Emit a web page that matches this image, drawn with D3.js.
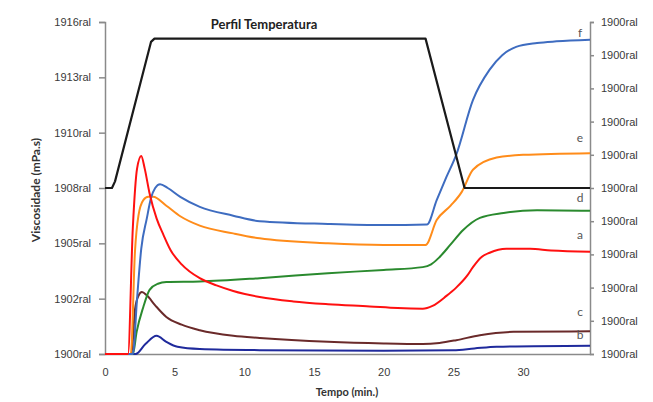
<!DOCTYPE html>
<html>
<head>
<meta charset="utf-8" />
<style>
  body { margin: 0; background: #fff; }
  svg { display: block; font-family: Lato, "Open Sans", sans-serif; }
  .axis path, .axis line { stroke: #8a8a8a; stroke-width: 1.5; }
  .axis text { fill: #3a3a3a; font-size: 11px; }
</style>
<script src="https://cdnjs.cloudflare.com/ajax/libs/d3/7.8.5/d3.min.js"></script>
</head>
<body>
<div id="chart"></div>
<script>
// left axis tick labels (as they appear in the source chart)
var leftTicks = ["1900ral", "1902ral", "1905ral", "1908ral", "1910ral", "1913ral", "1916ral"];
var rightTicks = [0, 10, 20, 30, 40, 50, 60, 70, 80, 90, 100];
var xTicks = [0, 5, 10, 15, 20, 25, 30];

// viscosity curves, [time (min), viscosity in left-axis units]
var curveA = [[0,0],[1.65,0],[2.0,2.3],[2.3,3.35],[2.6,3.58],[2.85,3.35],[3.2,2.9],[3.7,2.45],[4.2,2.15],[4.7,1.88],[5.5,1.62],[6.8,1.37],[8,1.24],[9.2,1.14],[11.1,1.03],[13.5,0.95],[16,0.9],[19,0.86],[21,0.83],[22.8,0.82],[23.5,0.87],[24.5,1.05],[25.2,1.2],[26,1.42],[26.4,1.57],[27,1.75],[27.6,1.83],[28.8,1.9],[30.5,1.9],[32,1.87],[34.8,1.85]];
var curveB = [[0,0],[2.2,0],[2.9,0.18],[3.7,0.33],[4.4,0.22],[5.2,0.13],[6.8,0.09],[11.1,0.07],[20,0.06],[25,0.07],[26.5,0.1],[28.1,0.13],[34.8,0.15]];
var curveC = [[0,0],[1.9,0],[2.15,0.8],[2.4,1.05],[2.65,1.12],[3.0,1.06],[3.6,0.88],[4.4,0.67],[5.5,0.53],[6.8,0.43],[9.2,0.33],[11.1,0.29],[16,0.22],[20,0.19],[22.8,0.18],[24,0.2],[25.2,0.25],[26.9,0.34],[29.3,0.4],[34.8,0.41]];
var curveD = [[0,0],[2.0,0],[2.27,0.4],[2.75,0.85],[3.2,1.16],[3.8,1.27],[4.4,1.3],[6.8,1.31],[11.1,1.37],[16,1.46],[20,1.52],[22.8,1.57],[23.4,1.62],[24,1.75],[24.8,1.98],[25.7,2.24],[26.9,2.46],[28.6,2.55],[31,2.6],[34.8,2.59]];
var curveE = [[0,0],[1.85,0],[2.15,1.85],[2.4,2.5],[2.75,2.78],[3.1,2.84],[3.45,2.84],[4.4,2.68],[5.4,2.49],[6.8,2.32],[9.2,2.18],[11.1,2.09],[16,2.0],[20,1.97],[23,1.97],[23.8,2.42],[24.8,2.68],[25.6,2.93],[26.4,3.33],[28.1,3.55],[30,3.6],[34.8,3.63]];
var curveF = [[0,0],[2.0,0],[2.3,1.0],[2.6,1.9],[3.0,2.45],[3.3,2.82],[3.6,3.0],[3.95,3.07],[4.5,3.0],[5.4,2.84],[6.8,2.66],[9.2,2.5],[11.1,2.4],[16,2.35],[20,2.33],[23.1,2.34],[23.8,2.78],[24.5,3.2],[25.2,3.6],[26.4,4.59],[27.6,5.14],[28.5,5.4],[29.5,5.55],[31,5.62],[32.4,5.65],[34.8,5.68]];

// temperature profile on the right axis
var tempProfile = [[0,50],[0.5,50],[0.72,52],[3.3,94],[3.55,95],[4.5,95],[23,95],[25.8,50],[34.8,50]];

var series = [
  { name: "b", data: curveB, color: "#1f2a9c" },
  { name: "c", data: curveC, color: "#6a2a2a" },
  { name: "d", data: curveD, color: "#2a8a2e" },
  { name: "e", data: curveE, color: "#ff8c1a" },
  { name: "f", data: curveF, color: "#3e6cc0" },
  { name: "a", data: curveA, color: "#ff1010" }
];
var labelPos = { f: 33, e: 138, d: 198, a: 235, c: 312, b: 335 };

var W = 653, H = 402;
var mLeft = 105, mRight = 590, mTop = 22, mBottom = 354;

var svg = d3.select("#chart").append("svg")
  .attr("width", W).attr("height", H);

var x = d3.scaleLinear().domain([0, 34.8]).range([mLeft, mRight]);
var yL = d3.scaleLinear().domain([0, 6]).range([mBottom, mTop]);
var yR = d3.scaleLinear().domain([0, 100]).range([mBottom, mTop]);

// axes
svg.append("g").attr("class", "axis")
  .attr("transform", "translate(" + mLeft + ",0)")
  .call(d3.axisLeft(yL).tickValues(d3.range(7)).tickSize(6).tickSizeOuter(6).tickPadding(8)
    .tickFormat(function (d) { return leftTicks[d]; }));

svg.append("g").attr("class", "axis")
  .attr("transform", "translate(" + mRight + ",0)")
  .call(d3.axisRight(yR).tickValues(rightTicks).tickSize(4).tickSizeOuter(4).tickPadding(7)
    .tickFormat(function () { return "1900ral"; }));

var xa = svg.append("g").attr("class", "axis")
  .attr("transform", "translate(0," + mBottom + ")")
  .call(d3.axisBottom(x).tickValues(xTicks).tickSize(0).tickSizeOuter(0).tickPadding(14));
xa.select(".domain").attr("stroke-width", 2);

var line = d3.line()
  .x(function (d) { return x(d[0]); })
  .y(function (d) { return yL(d[1]); })
  .curve(d3.curveMonotoneX);

series.forEach(function (s) {
  svg.append("path").datum(s.data)
    .attr("fill", "none")
    .attr("stroke", s.color)
    .attr("stroke-width", 2)
    .attr("d", line);
});

var tline = d3.line()
  .x(function (d) { return x(d[0]); })
  .y(function (d) { return yR(d[1]); });

svg.append("path").datum(tempProfile)
  .attr("fill", "none")
  .attr("stroke", "#1a1a1a")
  .attr("stroke-width", 2.2)
  .attr("stroke-linejoin", "round")
  .attr("d", tline);

// curve letters
series.forEach(function (s) {
  svg.append("text")
    .attr("x", 580).attr("y", labelPos[s.name] + 4)
    .attr("text-anchor", "middle")
    .attr("font-size", 12)
    .attr("fill", "#555")
    .text(s.name);
});

svg.append("text")
  .attr("x", 264).attr("y", 29)
  .attr("text-anchor", "middle")
  .attr("font-size", 13).attr("font-weight", "bold").attr("fill", "#222")
  .text("Perfil Temperatura");

svg.append("text")
  .attr("x", 347).attr("y", 396)
  .attr("text-anchor", "middle")
  .attr("font-size", 11).attr("font-weight", "bold").attr("fill", "#333")
  .text("Tempo (min.)");

svg.append("text")
  .attr("transform", "translate(40,190) rotate(-90)")
  .attr("text-anchor", "middle")
  .attr("font-size", 12).attr("font-weight", "bold").attr("fill", "#333")
  .text("Viscosidade (mPa.s)");
</script>
</body>
</html>
